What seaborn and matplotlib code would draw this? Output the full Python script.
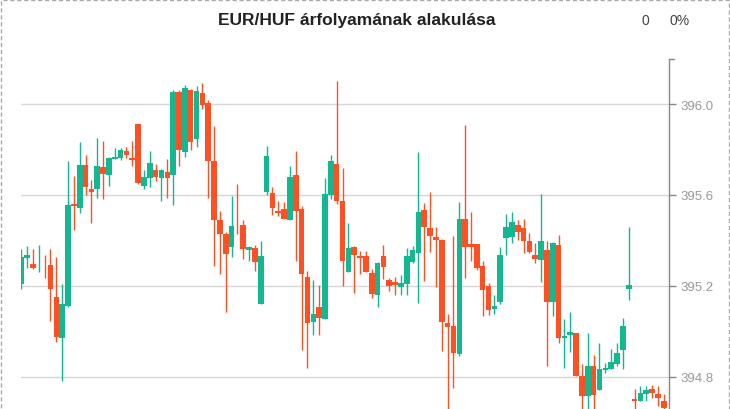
import matplotlib
matplotlib.use("Agg")
import matplotlib.pyplot as plt
import matplotlib.patches as mpatches
import seaborn as sns
import pandas as pd

# EUR/HUF gyertyák (open, high, low, close)
opens = [
    395.210, 395.325, 395.298, 395.3200, 395.3002, 395.294, 395.153, 394.969, 395.111, 395.559,
    395.544, 395.733, 395.628, 395.625, 395.725, 395.689, 395.757, 395.764, 395.795, 395.764,
    395.914, 395.641, 395.676, 395.711, 395.676, 395.703, 395.689, 396.054, 395.791, 396.063,
    395.848, 396.050, 396.006, 395.751, 395.492, 395.430, 395.373, 395.5402, 395.470, 395.357,
    395.369, 395.122, 395.615, 395.610, 395.531, 395.540, 395.492, 395.689, 395.540, 395.241,
    395.043, 395.109, 395.056, 395.602, 395.738, 395.575, 395.263, 395.373, 395.333, 395.333,
    395.259, 395.162, 395.333, 395.228, 395.219, 395.197, 395.210, 395.307, 395.347, 395.536,
    395.456, 395.417, 395.404, 395.035, 395.026, 394.903, 395.496, 395.386, 395.386, 395.289,
    395.202, 395.100, 395.131, 395.412, 395.417, 395.470, 395.456, 395.399, 395.338, 395.316,
    395.360, 395.131, 395.382, 394.973, 394.986, 394.991, 394.802, 394.718, 394.850, 394.744,
    394.832, 394.837, 394.859, 394.920, 395.188, 394.705, 394.696, 394.727, 394.749, 394.727,
    394.692,
]
highs = [
    395.364, 395.374, 395.364, 395.382, 395.335, 395.364, 395.328, 395.210, 395.751, 395.685,
    395.835, 395.777, 395.667, 395.852, 395.839, 395.767, 395.807, 395.807, 395.812, 395.839,
    395.914, 395.711, 395.795, 395.738, 395.716, 395.760, 396.063, 396.063, 396.085, 396.067,
    396.081, 396.094, 396.019, 395.905, 395.531, 395.439, 395.597, 395.650, 395.492, 395.377,
    395.382, 395.399, 395.817, 395.637, 395.575, 395.571, 395.729, 395.795, 395.553, 395.267,
    395.228, 395.206, 395.676, 395.777, 396.103, 395.720, 395.478, 395.377, 395.355, 395.355,
    395.276, 395.307, 395.382, 395.237, 395.241, 395.250, 395.369, 395.377, 395.791, 395.566,
    395.615, 395.461, 395.408, 395.078, 395.421, 395.571, 395.909, 395.527, 395.386, 395.311,
    395.215, 395.162, 395.373, 395.518, 395.527, 395.492, 395.496, 395.434, 395.391, 395.606,
    395.399, 395.395, 395.426, 395.056, 395.087, 394.991, 394.859, 394.991, 394.898, 394.951,
    394.863, 394.925, 394.951, 395.061, 395.461, 394.749, 394.762, 394.762, 394.766, 394.758,
    394.727,
]
lows = [
    395.188, 395.281, 395.276, 395.262, 395.237, 395.045, 394.952, 394.781, 395.108, 395.448,
    395.522, 395.602, 395.478, 395.588, 395.584, 395.641, 395.757, 395.752, 395.761, 395.726,
    395.650, 395.628, 395.637, 395.663, 395.575, 395.588, 395.558, 395.729, 395.769, 395.799,
    395.812, 395.980, 395.588, 395.289, 395.254, 395.087, 395.329, 395.430, 395.320, 395.311,
    395.267, 395.122, 395.602, 395.514, 395.509, 395.496, 395.492, 395.311, 394.920, 394.841,
    394.986, 394.986, 395.056, 395.584, 395.562, 395.202, 395.263, 395.171, 395.254, 395.263,
    395.149, 395.109, 395.232, 395.180, 395.162, 395.162, 395.162, 395.303, 395.127, 395.224,
    395.351, 395.197, 394.916, 394.620, 394.753, 394.894, 395.237, 395.311, 395.272, 395.070,
    395.074, 395.078, 395.122, 395.338, 395.391, 395.404, 395.347, 395.347, 395.303, 395.219,
    394.846, 395.070, 394.951, 394.841, 394.911, 394.802, 394.640, 394.640, 394.640, 394.744,
    394.819, 394.837, 394.850, 394.837, 395.140, 394.640, 394.692, 394.696, 394.709, 394.670,
    394.640,
]
closes = [
    395.328, 395.335, 395.281, 395.3202, 395.3000, 395.188, 394.974, 395.122, 395.558, 395.550,
    395.733, 395.634, 395.615, 395.729, 395.694, 395.764, 395.769, 395.799, 395.774, 395.752,
    395.654, 395.681, 395.742, 395.681, 395.711, 395.676, 396.054, 395.799, 396.072, 395.835,
    396.059, 395.997, 395.751, 395.492, 395.430, 395.342, 395.465, 395.5400, 395.364, 395.373,
    395.307, 395.333, 395.773, 395.544, 395.522, 395.496, 395.681, 395.531, 395.254, 395.039,
    395.078, 395.061, 395.606, 395.751, 395.575, 395.311, 395.369, 395.338, 395.325, 395.263,
    395.166, 395.303, 395.285, 395.202, 395.206, 395.215, 395.333, 395.360, 395.527, 395.461,
    395.421, 395.404, 395.043, 395.021, 394.907, 395.496, 395.373, 395.373, 395.281, 395.184,
    395.096, 395.114, 395.338, 395.461, 395.483, 395.439, 395.399, 395.351, 395.320, 395.399,
    395.131, 395.391, 394.973, 394.982, 394.999, 394.802, 394.714, 394.850, 394.722, 394.837,
    394.841, 394.867, 394.907, 395.026, 395.206, 394.696, 394.731, 394.744, 394.731, 394.709,
    394.665,
]
ytick_values = [394.8, 395.2, 395.6, 396.0]

up_color = "#14B890"
down_color = "#FF5024"

df = pd.DataFrame({"open": opens, "high": highs, "low": lows, "close": closes})
df["idx"] = range(len(df))
df["up"] = df["close"] >= df["open"]
df["color"] = df["up"].map({True: up_color, False: down_color})

sns.set_theme(style="white")
plt.rcParams["font.family"] = ["Liberation Sans", "DejaVu Sans"]

fig = plt.figure(figsize=(7.3, 4.1), dpi=100)
ax = fig.add_axes([21 / 730, 0, 648 / 730, 350 / 410])

# kanócok
ax.vlines(df["idx"], df["low"], df["high"], colors=df["color"], linewidth=1.0, zorder=2)
# testek
body_bottom = df[["open", "close"]].min(axis=1)
body_height = (df["close"] - df["open"]).abs()
ax.bar(df["idx"], body_height, bottom=body_bottom, width=0.96,
       color=df["color"], linewidth=0, zorder=3)

ax.set_xlim(-0.05, 110.9)
ax.set_ylim(394.659, 396.198)
ax.set_xticks([])
ax.set_yticks(ytick_values)
ax.set_yticklabels([f"{v:.1f}" for v in ytick_values])
ax.yaxis.tick_right()
ax.grid(axis="y", color="#d6d6d6", linewidth=1.0, zorder=0)
ax.tick_params(axis="y", which="both", right=True, length=5, width=1,
               color="#888888", labelcolor="#999999", labelsize=9.5, pad=3)
for side in ["left", "top", "bottom"]:
    ax.spines[side].set_visible(False)
ax.spines["right"].set_color("#888888")
ax.spines["right"].set_linewidth(1.0)
# kis jel a tengely tetején
ax.plot([1.0, 1.008], [1.0, 1.0], transform=ax.transAxes, color="#888888",
        linewidth=1.0, clip_on=False)

fig.text(357 / 730, 1 - 21 / 410, "EUR/HUF árfolyamának alakulása",
         ha="center", va="center", fontsize=12.5, fontweight="bold", color="#222222")
fig.text(645 / 730, 1 - 21 / 410, "0", ha="center", va="center",
         fontsize=10, color="#444444")
fig.text(680 / 730, 1 - 21 / 410, "0%", ha="center", va="center",
         fontsize=10, color="#444444")

# szaggatott keret
border = mpatches.Rectangle((0.001, -0.01), 0.997, 1.008, transform=fig.transFigure,
                            fill=False, edgecolor="#aaaaaa", linewidth=1.0,
                            linestyle=(0, (3, 2)))
fig.patches.append(border)

fig.savefig("out.png", dpi=100)
